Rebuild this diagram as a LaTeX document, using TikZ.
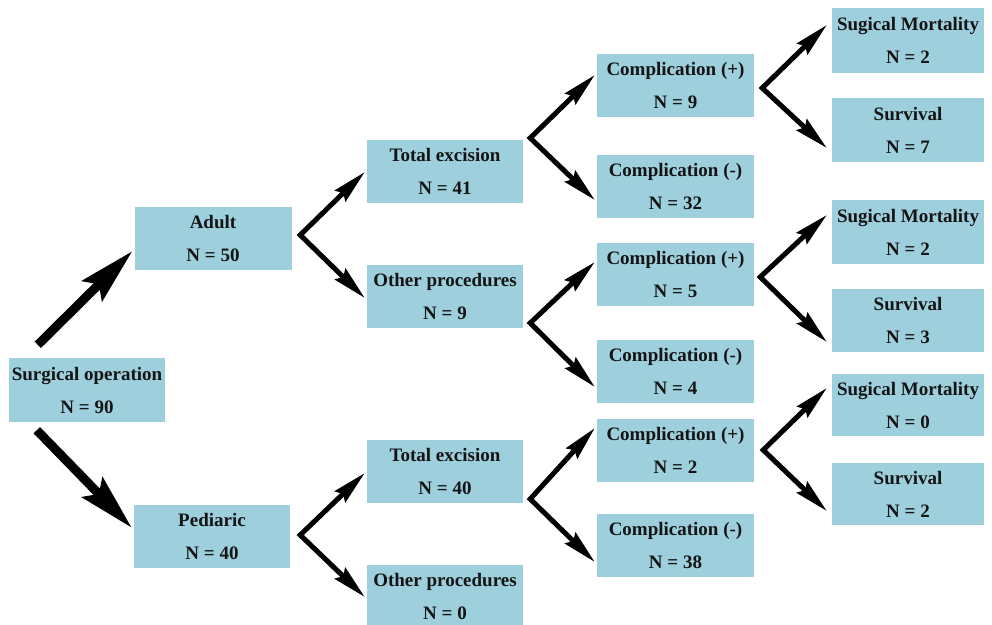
\documentclass[tikz,border=0pt]{standalone}
\usepackage{fontspec}
\setmainfont{Liberation Serif}
\usetikzlibrary{arrows.meta}
\definecolor{boxblue}{RGB}{157,207,220}
\definecolor{txt}{RGB}{20,20,20}
\tikzset{
  box/.style={fill=boxblue, draw=none, inner sep=0pt, align=center,
    minimum height=63pt, text=txt,
    font=\fontsize{19}{33}\selectfont\bfseries},
  w1/.style={minimum width=156pt},
  w5/.style={minimum width=152pt},
  bigarr/.style={line width=9pt, -{Stealth[length=56pt,width=28pt,inset=9pt]}},
  varr/.style={line width=5pt, line join=miter,
    {Stealth[length=34pt,width=15pt,inset=4pt]}-{Stealth[length=34pt,width=15pt,inset=4pt]}}
}
\begin{document}
\begin{tikzpicture}[x=1pt,y=-1pt]
\clip (0,0) rectangle (992,624);
\fill[white] (0,0) rectangle (992,624);
% column 1
\node[box,w1, minimum height=64pt] (s) at (87,390) {Surgical operation\\N = 90};
% column 2
\node[box,w1,minimum width=157pt] (adult) at (213,238.5) {Adult\\N = 50};
\node[box,w1] (ped) at (212,536.5) {Pediaric\\N = 40};
% column 3
\node[box,w1] (te1) at (445,171.5) {Total excision\\N = 41};
\node[box,w1] (op1) at (445,296.5) {Other procedures\\N = 9};
\node[box,w1] (te2) at (445,471.5) {Total excision\\N = 40};
\node[box,w1] (op2) at (445,596.5) {Other procedures\\N = 0};
% column 4
\node[box,w1,minimum width=157pt] (cp1) at (675.5,85) {Complication (+)\\N = 9};
\node[box,w1,minimum width=157pt] (cm1) at (675.5,186) {Complication (-)\\N = 32};
\node[box,w1,minimum width=157pt] (cp2) at (675.5,274.5) {Complication (+)\\N = 5};
\node[box,w1,minimum width=157pt] (cm2) at (675.5,371.5) {Complication (-)\\N = 4};
\node[box,w1,minimum width=157pt] (cp3) at (675.5,450.5) {Complication (+)\\N = 2};
\node[box,w1,minimum width=157pt] (cm3) at (675.5,545.5) {Complication (-)\\N = 38};
% column 5
\node[box,w5,minimum height=65pt] (sm1) at (908,40.5) {Sugical Mortality\\N = 2};
\node[box,w5,minimum height=64pt] (sv1) at (908,130) {Survival\\N = 7};
\node[box,w5,minimum height=64pt] (sm2) at (908,232) {Sugical Mortality\\N = 2};
\node[box,w5] (sv2) at (908,320.5) {Survival\\N = 3};
\node[box,w5,minimum height=62pt] (sm3) at (908,405) {Sugical Mortality\\N = 0};
\node[box,w5,minimum height=62pt] (sv3) at (908,494) {Survival\\N = 2};
% vertices
\coordinate (vA) at ([shift={(8.5,-3.5)}]adult.east);
\coordinate (vP) at ([shift={(10,-1.5)}]ped.east);
\coordinate (vT1) at ([shift={(7,-33.5)}]te1.east);
\coordinate (vO1) at ([shift={(7,26.5)}]op1.east);
\coordinate (vT2) at ([shift={(7,27.5)}]te2.east);
\coordinate (vC1) at ([shift={(8,3)}]cp1.east);
\coordinate (vC2) at ([shift={(6,2.5)}]cp2.east);
\coordinate (vC3) at ([shift={(9,-0.5)}]cp3.east);
% big arrows
\draw[bigarr] ([shift={(29,-13)}]s.north west) -- ([shift={(-2,-19)}]adult.south west);
\draw[bigarr] ([shift={(28,8)}]s.south west) -- ([shift={(-2,23)}]ped.north west);
% V connectors
\draw[varr] ([shift={(-2,0.5)}]te1.west) -- (vA) -- ([shift={(-2,1.5)}]op1.west);
\draw[varr] ([shift={(-2,1.5)}]te2.west) -- (vP) -- ([shift={(-2,0.5)}]op2.west);
\draw[varr] ([shift={(-2,-10)}]cp1.west) -- (vT1) -- ([shift={(-2,14)}]cm1.west);
\draw[varr] ([shift={(-2,-12.5)}]cp2.west) -- (vO1) -- ([shift={(-2,15.5)}]cm2.west);
\draw[varr] ([shift={(-2,-22.5)}]cp3.west) -- (vT2) -- ([shift={(-2,16.5)}]cm3.west);
\draw[varr] ([shift={(-5,-15.5)}]sm1.west) -- (vC1) -- ([shift={(-5,18)}]sv1.west);
\draw[varr] ([shift={(-5,-17)}]sm2.west) -- (vC2) -- ([shift={(-5,21.5)}]sv2.west);
\draw[varr] ([shift={(-5,-17)}]sm3.west) -- (vC3) -- ([shift={(-5,17)}]sv3.west);
\end{tikzpicture}
\end{document}
